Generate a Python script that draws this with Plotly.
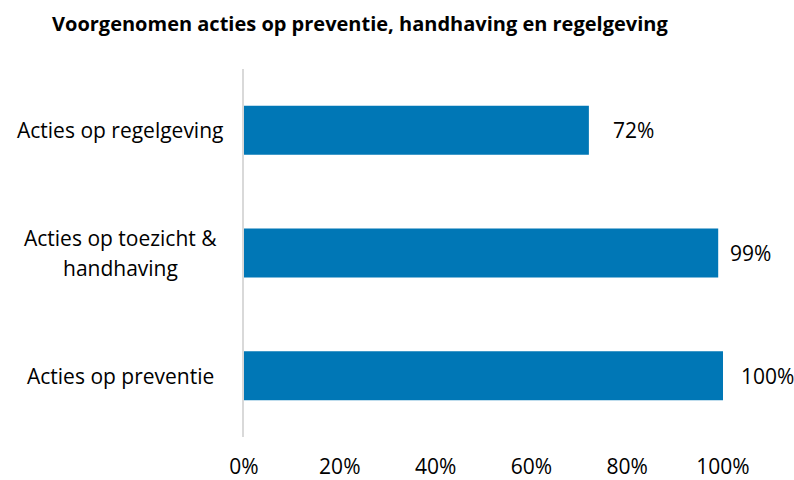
import plotly.graph_objects as go

categories = ["Acties op preventie", "Acties op toezicht &<br>handhaving", "Acties op regelgeving"]
values = [100, 99, 72]
value_labels = ["100%", "99%", "72%"]
label_shift = [16, 10, 22]
tick_vals = [0, 20, 40, 60, 80, 100]
tick_text = ["0%", "20%", "40%", "60%", "80%", "100%"]

FONT = "Open Sans"
FS = 21
W, H = 794, 480
ML, MR, MT, MB = 244, 71, 69, 43

fig = go.Figure()
fig.add_trace(go.Bar(
    x=values, y=list(range(len(categories))), orientation="h",
    marker=dict(color="#0077B6", line=dict(width=0)),
    width=0.4, hoverinfo="skip",
))

annotations = []
for i, (v, t, s) in enumerate(zip(values, value_labels, label_shift)):
    annotations.append(dict(x=v, y=i, xref="x", yref="y", text=t, showarrow=False,
                            xanchor="left", xshift=s, font=dict(family=FONT, size=FS, color="#000")))
plot_w = W - ML - MR
LINE_H = 30
for i, c in enumerate(categories):
    lines = c.split("<br>")
    n = len(lines)
    for j, ln in enumerate(lines):
        annotations.append(dict(x=(120 - ML) / plot_w, y=i, xref="paper", yref="y", text=ln,
                                showarrow=False, xanchor="center", yanchor="middle",
                                yshift=((n - 1) / 2 - j) * LINE_H,
                                font=dict(family=FONT, size=FS, color="#000")))
annotations.append(dict(x=(50 - ML) / plot_w, y=1, yref="paper", xref="paper", yshift=69 - 23,
                        yanchor="middle", xanchor="left", showarrow=False,
                        text="<b>Voorgenomen acties op preventie, handhaving en regelgeving</b>",
                        font=dict(family=FONT, size=20, color="#000")))

fig.update_layout(
    width=W, height=H, margin=dict(l=ML, r=MR, t=MT, b=MB, autoexpand=False),
    paper_bgcolor="white", plot_bgcolor="white", showlegend=False,
    annotations=annotations,
    xaxis=dict(range=[0, 100], tickvals=tick_vals, ticktext=tick_text, showgrid=False,
               zeroline=False, showline=False, ticks="", ticklabelstandoff=15,
               automargin=False,
               tickfont=dict(family=FONT, size=FS, color="#000")),
    yaxis=dict(range=[-0.5, 2.5], showticklabels=False, showgrid=False, zeroline=False,
               automargin=False,
               showline=True, linecolor="#d9d9d9", linewidth=2, ticks=""),
)
fig.write_html("out.html")
